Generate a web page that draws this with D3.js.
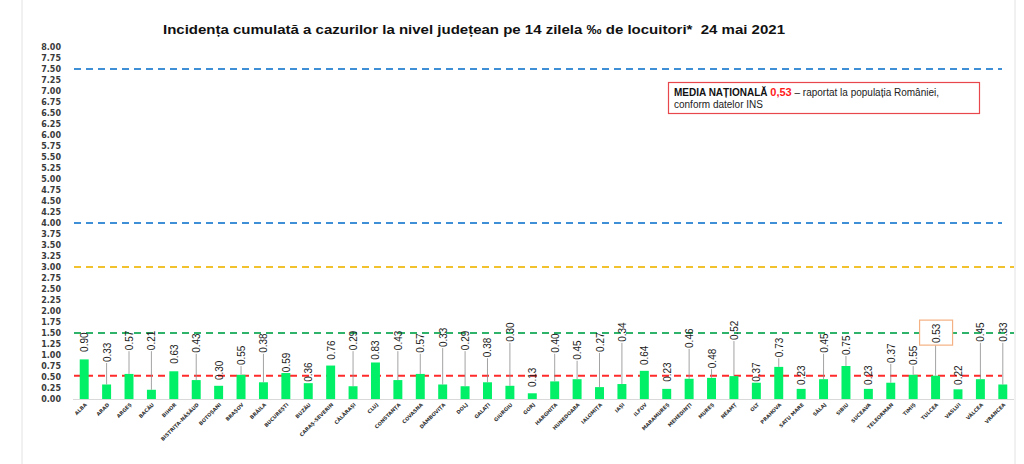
<!DOCTYPE html>
<html>
<head>
<meta charset="utf-8">
<script src="https://cdn.jsdelivr.net/npm/d3@7"></script>
<style>
  body { margin: 0; background: #fff; }
  svg { display: block; }
</style>
</head>
<body>
<div id="vis"></div>
<script>
// Frame size
const FRAME_WIDTH = 1024;
const FRAME_HEIGHT = 464;

// Data: counties and cumulative incidence values
const counties = ["ALBA", "ARAD", "ARGEȘ", "BACĂU", "BIHOR", "BISTRIȚA-NĂSĂUD", "BOTOȘANI", "BRAȘOV",
  "BRĂILA", "BUCUREȘTI", "BUZĂU", "CARAȘ-SEVERIN", "CĂLĂRAȘI", "CLUJ", "CONSTANȚA", "COVASNA",
  "DÂMBOVIȚA", "DOLJ", "GALAȚI", "GIURGIU", "GORJ", "HARGHITA", "HUNEDOARA", "IALOMIȚA", "IAȘI",
  "ILFOV", "MARAMUREȘ", "MEHEDINȚI", "MUREȘ", "NEAMȚ", "OLT", "PRAHOVA", "SATU MARE", "SĂLAJ",
  "SIBIU", "SUCEAVA", "TELEORMAN", "TIMIȘ", "TULCEA", "VASLUI", "VÂLCEA", "VRANCEA"];

const values = [0.90, 0.33, 0.57, 0.21, 0.63, 0.43, 0.30, 0.55, 0.38, 0.59, 0.36, 0.76, 0.29, 0.83,
  0.43, 0.57, 0.33, 0.29, 0.38, 0.30, 0.13, 0.40, 0.45, 0.27, 0.34, 0.64, 0.23, 0.46, 0.48, 0.52,
  0.37, 0.73, 0.23, 0.45, 0.75, 0.23, 0.37, 0.55, 0.53, 0.22, 0.45, 0.33];

// Where each (moved) data label sits, in axis units
const labelAt = [1.07, 0.84, 1.11, 1.11, 0.80, 1.05, 0.43, 0.77, 1.05, 0.61, 0.39, 0.89, 1.11, 0.89,
  1.11, 1.05, 1.18, 1.11, 0.95, 1.30, 0.27, 1.05, 0.89, 1.07, 1.30, 0.77, 0.39, 1.16, 0.70, 1.34,
  0.39, 0.95, 0.32, 1.05, 1.00, 0.32, 0.82, 0.77, 1.27, 0.32, 1.30, 1.30];

// Y axis ticks
const yTicks = d3.range(0, 8.001, 0.25);

// Reference lines
const refLines = [
  {value: 7.5, color: "#3f8fd6", end: 1002},
  {value: 4.0, color: "#3f8fd6", end: 1002},
  {value: 3.0, color: "#f2c12e", end: 1014},
  {value: 1.5, color: "#2fb36a", end: 1014},
  {value: 0.53, color: "#ff2a2a", end: 1002}
];

const nationalMean = "0,53";
const highlighted = "TULCEA";

const svg = d3.select("#vis")
  .append("svg")
    .attr("width", FRAME_WIDTH)
    .attr("height", FRAME_HEIGHT);

// Scales
const X_SCALE = d3.scaleBand()
  .domain(counties)
  .range([73, 1014])
  .paddingInner(0.6)
  .paddingOuter(0.3);

const Y_SCALE = d3.scaleLinear()
  .domain([0, 8])
  .range([399, 47]);

// Outer frame lines
svg.append("line").attr("x1", 22).attr("x2", 22).attr("y1", 0).attr("y2", FRAME_HEIGHT)
  .attr("stroke", "#e2e2e2");
svg.append("line").attr("x1", 1015).attr("x2", 1015).attr("y1", 0).attr("y2", FRAME_HEIGHT)
  .attr("stroke", "#e2e2e2");

// Title
svg.append("text")
  .attr("x", 474)
  .attr("y", 34)
  .attr("text-anchor", "middle")
  .attr("font-family", "Liberation Sans, Arial, sans-serif")
  .attr("font-weight", "700")
  .attr("font-size", "13px")
  .attr("textLength", 622)
  .attr("lengthAdjust", "spacingAndGlyphs")
  .attr("fill", "#111")
  .style("white-space", "pre")
  .text("Incidența cumulată a cazurilor la nivel județean pe 14 zilela ‰ de locuitori*  24 mai 2021");

// Y axis labels
const yAxis = svg.append("g")
  .attr("transform", "translate(61,0)")
  .call(d3.axisLeft(Y_SCALE).tickValues(yTicks).tickSize(0).tickPadding(0)
    .tickFormat(d3.format(".2f")));
yAxis.select(".domain").remove();
yAxis.selectAll("text")
  .attr("font-family", "DejaVu Sans, Verdana, sans-serif")
  .attr("font-weight", "700")
  .attr("font-size", "8px")
  .attr("fill", "#3a3a3a");

// Baseline
svg.append("line")
  .attr("x1", 73).attr("x2", 1014)
  .attr("y1", Y_SCALE(0) + 0.5).attr("y2", Y_SCALE(0) + 0.5)
  .attr("stroke", "#d9d9d9");

// Dashed reference lines
svg.append("g").selectAll("line")
  .data(refLines)
  .enter()
  .append("line")
    .attr("x1", 74)
    .attr("x2", (d) => d.end)
    .attr("y1", (d) => Y_SCALE(d.value))
    .attr("y2", (d) => Y_SCALE(d.value))
    .attr("stroke", (d) => d.color)
    .attr("stroke-width", 2)
    .attr("stroke-dasharray", "7,5");

// Bars
const bars = counties.map((c, i) => ({county: c, value: values[i], label: labelAt[i]}));

svg.append("g").selectAll("rect")
  .data(bars)
  .enter()
  .append("rect")
    .attr("x", (d) => X_SCALE(d.county))
    .attr("y", (d) => Y_SCALE(d.value))
    .attr("width", X_SCALE.bandwidth())
    .attr("height", (d) => Y_SCALE(0) - Y_SCALE(d.value))
    .attr("fill", "#02f067");

// Leader lines for labels moved away from their bars
const cx = (d) => X_SCALE(d.county) + X_SCALE.bandwidth() / 2;
svg.append("g").selectAll("line")
  .data(bars.filter((d) => Y_SCALE(d.value) - Y_SCALE(d.label) > 9))
  .enter()
  .append("line")
    .attr("x1", cx)
    .attr("x2", cx)
    .attr("y1", (d) => Y_SCALE(d.label) + (d.county === highlighted ? 2 : 1))
    .attr("y2", (d) => Y_SCALE(d.value))
    .attr("stroke", "#8c8c8c")
    .attr("stroke-width", 0.8);

// Box round the highlighted label
const hl = bars.find((d) => d.county === highlighted);
svg.append("rect")
  .attr("x", cx(hl) - 16)
  .attr("y", Y_SCALE(hl.label) - 23)
  .attr("width", 33)
  .attr("height", 25)
  .attr("fill", "#fff")
  .attr("stroke", "#f4b183")
  .attr("stroke-width", 1.2);

// Value labels (vertical)
svg.append("g").selectAll("text")
  .data(bars)
  .enter()
  .append("text")
    .attr("transform", (d) => "translate(" + (cx(d) + 4) + "," + Y_SCALE(d.label) + ") rotate(-90)")
    .attr("font-family", "Liberation Sans, Arial, sans-serif")
    .attr("font-size", "10px")
    .attr("fill", "#1a1a1a")
    .text((d) => d3.format(".2f")(d.value));

// County labels
svg.append("g").selectAll("text")
  .data(counties)
  .enter()
  .append("text")
    .attr("transform", (d) => "translate(" + (X_SCALE(d) + X_SCALE.bandwidth() / 2 + 3) + ",405) rotate(-45)")
    .attr("text-anchor", "end")
    .attr("font-family", "DejaVu Sans, Verdana, sans-serif")
    .attr("font-weight", "700")
    .attr("font-size", "5px")
    .attr("fill", "#333")
    .text((d) => d);

// National mean box
svg.append("rect")
  .attr("x", 668.5).attr("y", 82.5)
  .attr("width", 311).attr("height", 31)
  .attr("fill", "#fff")
  .attr("stroke", "#e8474c")
  .attr("stroke-width", 1.2);

const note = svg.append("text")
  .attr("x", 674).attr("y", 96)
  .attr("font-family", "Liberation Sans, Arial, sans-serif")
  .attr("font-size", "10px")
  .attr("fill", "#222");
note.append("tspan").attr("font-weight", "700").attr("fill", "#111").text("MEDIA NAȚIONALĂ ");
note.append("tspan").attr("font-weight", "700").attr("fill", "#ff1a1a").attr("font-size", "11px").text(nationalMean);
note.append("tspan").text(" – raportat la populația României,");
svg.append("text")
  .attr("x", 674).attr("y", 108)
  .attr("font-family", "Liberation Sans, Arial, sans-serif")
  .attr("font-size", "10px")
  .attr("fill", "#222")
  .text("conform datelor INS");
</script>
</body>
</html>
